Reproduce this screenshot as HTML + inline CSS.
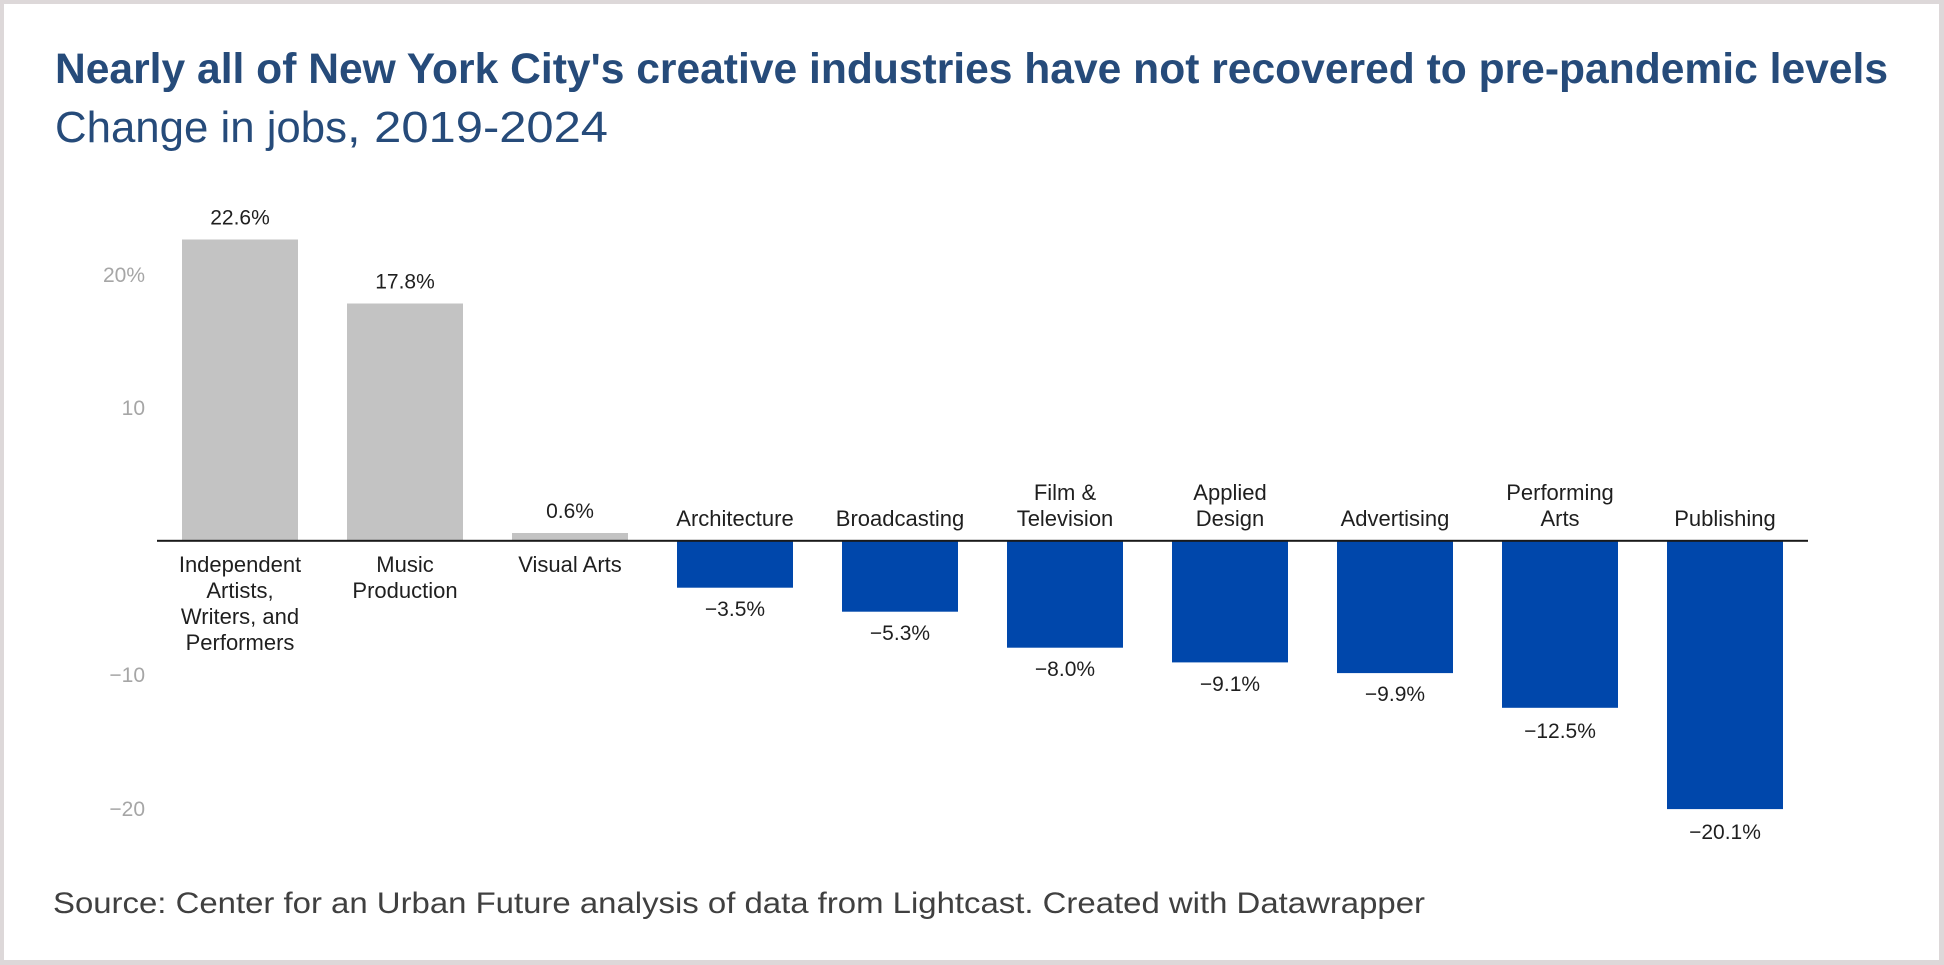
<!DOCTYPE html>
<html>
<head>
<meta charset="utf-8">
<style>
  html, body { margin: 0; padding: 0; background: #ddd8d9; }
  body { width: 1944px; height: 965px; overflow: hidden; }
  svg { display: block; }
  text { font-family: "Liberation Sans", Arial, sans-serif; }
</style>
</head>
<body>
<svg width="1944" height="965" viewBox="0 0 1944 965" xmlns="http://www.w3.org/2000/svg">
  <rect x="0" y="0" width="1944" height="965" fill="#ddd8d9"/>
  <rect x="4" y="4" width="1935" height="956" fill="#ffffff"/>

  <!-- Title -->
  <text x="55" y="83" font-size="43" font-weight="bold" fill="#264b7a" textLength="1833" lengthAdjust="spacingAndGlyphs">Nearly all of New York City's creative industries have not recovered to pre-pandemic levels</text>
  <!-- Subtitle -->
  <text x="55" y="142" font-size="44" fill="#264b7a" textLength="292" lengthAdjust="spacingAndGlyphs">Change in jobs</text>
  <text x="347" y="142" font-size="44" fill="#264b7a" textLength="261" lengthAdjust="spacingAndGlyphs">, 2019-2024</text>

  <!-- Y tick labels -->
  <g font-size="21" fill="#a6a6a6" text-anchor="end">
    <text x="145" y="282">20%</text>
    <text x="145" y="415">10</text>
    <text x="145" y="682">−10</text>
    <text x="145" y="816">−20</text>
  </g>

  <!-- Bars -->
  <g>
    <rect x="182" y="239.5" width="116" height="301.5" fill="#c3c3c3"/>
    <rect x="347" y="303.5" width="116" height="237.5" fill="#c3c3c3"/>
    <rect x="512" y="533" width="116" height="8" fill="#c3c3c3"/>
    <rect x="677" y="541" width="116" height="46.7" fill="#0047ab"/>
    <rect x="842" y="541" width="116" height="70.7" fill="#0047ab"/>
    <rect x="1007" y="541" width="116" height="106.7" fill="#0047ab"/>
    <rect x="1172" y="541" width="116" height="121.4" fill="#0047ab"/>
    <rect x="1337" y="541" width="116" height="132.1" fill="#0047ab"/>
    <rect x="1502" y="541" width="116" height="166.8" fill="#0047ab"/>
    <rect x="1667" y="541" width="116" height="268.1" fill="#0047ab"/>
  </g>

  <!-- Zero axis -->
  <rect x="157" y="539.8" width="1651" height="2" fill="#1a1a1a"/>

  <!-- Value labels -->
  <g font-size="21" fill="#1f1f1f" text-anchor="middle">
    <text x="240" y="224.5">22.6%</text>
    <text x="405" y="288.5">17.8%</text>
    <text x="570" y="518">0.6%</text>
    <text x="735" y="616">−3.5%</text>
    <text x="900" y="640">−5.3%</text>
    <text x="1065" y="676">−8.0%</text>
    <text x="1230" y="691">−9.1%</text>
    <text x="1395" y="701">−9.9%</text>
    <text x="1560" y="738">−12.5%</text>
    <text x="1725" y="839">−20.1%</text>
  </g>

  <!-- Category labels -->
  <g font-size="22" fill="#1f1f1f" text-anchor="middle">
    <text x="240" y="572">Independent</text>
    <text x="240" y="598">Artists,</text>
    <text x="240" y="624">Writers, and</text>
    <text x="240" y="650">Performers</text>

    <text x="405" y="572">Music</text>
    <text x="405" y="598">Production</text>

    <text x="570" y="572">Visual Arts</text>

    <text x="735" y="526">Architecture</text>
    <text x="900" y="526">Broadcasting</text>
    <text x="1065" y="500">Film &amp;</text>
    <text x="1065" y="526">Television</text>
    <text x="1230" y="500">Applied</text>
    <text x="1230" y="526">Design</text>
    <text x="1395" y="526">Advertising</text>
    <text x="1560" y="500">Performing</text>
    <text x="1560" y="526">Arts</text>
    <text x="1725" y="526">Publishing</text>
  </g>

  <!-- Source -->
  <text x="53" y="913" font-size="30" fill="#404040" textLength="1372" lengthAdjust="spacingAndGlyphs">Source: Center for an Urban Future analysis of data from Lightcast. Created with Datawrapper</text>
</svg>
</body>
</html>
